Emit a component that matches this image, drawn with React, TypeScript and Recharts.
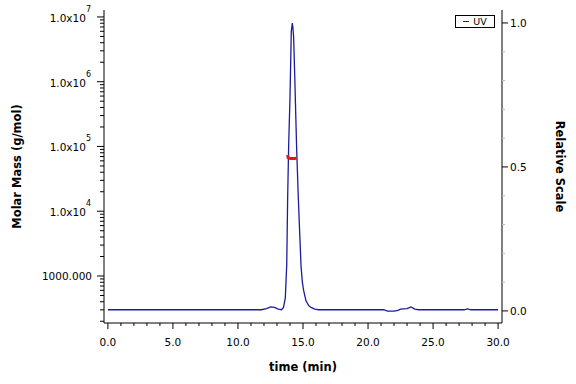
import { ComposedChart, Line, XAxis, YAxis } from 'recharts'

// UV trace (relative scale)
const uvTime = [
  0, 11.8, 12.2, 12.5, 12.8, 13.1, 13.35, 13.5, 13.64, 13.75, 13.82, 13.9, 14.0, 14.1, 14.18,
  14.22, 14.28, 14.35, 14.42, 14.51, 14.64, 14.74, 14.85, 14.95, 15.05, 15.23, 15.45, 15.62,
  15.9, 16.2, 21.2, 21.5, 22.0, 22.3, 22.5, 23.0, 23.3, 23.6, 23.9, 27.4, 27.65, 27.9, 30.0,
]
const uvRel = [
  0.004, 0.004, 0.008, 0.014, 0.012, 0.006, 0.004, 0.012, 0.045, 0.161, 0.392, 0.58, 0.74, 0.971,
  1.0, 0.985, 0.95, 0.84, 0.72, 0.566, 0.392, 0.277, 0.155, 0.1, 0.07, 0.035, 0.018, 0.012, 0.006,
  0.004, 0.004, -0.001, -0.001, 0.002, 0.006, 0.008, 0.014, 0.006, 0.004, 0.004, 0.007, 0.004, 0.004,
]

// molar mass across the peak (g/mol)
const massTime = [13.82, 13.86, 13.95, 14.1, 14.3, 14.51]
const massValue = [74000, 67000, 65500, 65000, 65000, 65500]

const xTicks = [
  0, 1, 2, 3, 4, 5, 6, 7, 8, 9, 10, 11, 12, 13, 14, 15, 16, 17, 18, 19, 20, 21, 22, 23, 24, 25,
  26, 27, 28, 29, 30,
]
const xMajor = [0, 5, 10, 15, 20, 25, 30]

const massTicks = [
  200, 300, 400, 500, 600, 700, 800, 900,
  1e3, 2e3, 3e3, 4e3, 5e3, 6e3, 7e3, 8e3, 9e3,
  1e4, 2e4, 3e4, 4e4, 5e4, 6e4, 7e4, 8e4, 9e4,
  1e5, 2e5, 3e5, 4e5, 5e5, 6e5, 7e5, 8e5, 9e5,
  1e6, 2e6, 3e6, 4e6, 5e6, 6e6, 7e6, 8e6, 9e6,
  1e7,
]
const massMajor = [1e3, 1e4, 1e5, 1e6, 1e7]

const relTicks = [0, 0.1, 0.2, 0.3, 0.4, 0.5, 0.6, 0.7, 0.8, 0.9, 1.0]
const relMajor = [0, 0.5, 1.0]

const uvData = uvTime.map((t, i) => ({ t, rel: uvRel[i] }))
const massData = massTime.map((t, i) => ({ t, mass: massValue[i] }))

const FONT = '"DejaVu Sans", Verdana, sans-serif'
const LINE = '#1c1c9c'

function XTick({ x, y, payload }: any) {
  const v = payload.value
  const major = xMajor.includes(v)
  return (
    <g>
      <line x1={x} y1={y} x2={x} y2={y + (major ? 6 : 3)} stroke="#000" />
      {major && (
        <text x={x} y={y + 23} textAnchor="middle" fontSize={10.5} fontFamily={FONT} fill="#000">
          {v.toFixed(1)}
        </text>
      )}
    </g>
  )
}

function MassTick({ x, y, payload }: any) {
  const v = payload.value
  const major = massMajor.includes(v)
  const exp = Math.round(Math.log10(v))
  return (
    <g>
      <line x1={x} y1={y} x2={x - (major ? 7 : 4)} y2={y} stroke="#000" />
      {major && v === 1e3 && (
        <text x={x - 12} y={y + 4} textAnchor="end" fontSize={10.5} fontFamily={FONT} fill="#000">
          1000.000
        </text>
      )}
      {major && v !== 1e3 && (
        <text x={x - 13} y={y + 5} textAnchor="end" fontSize={10.5} fontFamily={FONT} fill="#000">
          <tspan>1.0x10</tspan>
          <tspan dy={-10} fontSize={8}>{exp}</tspan>
        </text>
      )}
    </g>
  )
}

function RelTick({ x, y, payload }: any) {
  const v = payload.value
  const major = relMajor.includes(v)
  return (
    <g>
      <line x1={x} y1={y} x2={x + (major ? 6 : 3)} y2={y} stroke={major ? '#000' : '#bbb'} />
      {major && (
        <text x={x + 8} y={y + 4} textAnchor="start" fontSize={10.5} fontFamily={FONT} fill="#000">
          {v.toFixed(1)}
        </text>
      )}
    </g>
  )
}

export default function App() {
  return (
    <div style={{ position: 'absolute', left: 0, top: 0, width: 576, height: 384, background: '#fff' }}>
      <ComposedChart width={576} height={384} margin={{ top: 10, right: 0, bottom: 0, left: 0 }}>
        <XAxis
          dataKey="t"
          type="number"
          domain={[-0.3, 30.3]}
          ticks={xTicks}
          interval={0}
          allowDataOverflow
          height={61}
          tickSize={0}
          tickMargin={0}
          tickLine={false}
          axisLine={{ stroke: '#000' }}
          tick={<XTick />}
          label={{
            content: ({ viewBox }: any) => (
              <text
                x={viewBox.x + viewBox.width / 2}
                y={viewBox.y + 48}
                textAnchor="middle"
                fontSize={11.5}
                fontWeight="bold"
                fontFamily={FONT}
                fill="#000"
              >
                time (min)
              </text>
            ),
          }}
        />
        <XAxis
          xAxisId="top"
          orientation="top"
          dataKey="t"
          type="number"
          domain={[-0.3, 30.3]}
          height={0}
          tick={false}
          tickLine={false}
          axisLine={{ stroke: '#000' }}
        />
        <YAxis
          yAxisId="mass"
          orientation="left"
          scale="log"
          type="number"
          domain={[188, 1.28e7]}
          allowDataOverflow
          ticks={massTicks}
          interval={0}
          width={104}
          tickSize={0}
          tickMargin={0}
          tickLine={false}
          axisLine={{ stroke: '#000' }}
          tick={<MassTick />}
          label={{
            content: ({ viewBox }: any) => {
              const cx = viewBox.x + 17
              const cy = viewBox.y + viewBox.height / 2
              return (
                <text
                  x={cx}
                  y={cy}
                  transform={`rotate(-90 ${cx} ${cy})`}
                  textAnchor="middle"
                  dominantBaseline="central"
                  fontSize={11.5}
                  fontWeight="bold"
                  fontFamily={FONT}
                  fill="#000"
                >
                  Molar Mass (g/mol)
                </text>
              )
            },
          }}
        />
        <YAxis
          yAxisId="rel"
          orientation="right"
          type="number"
          domain={[-0.042, 1.045]}
          allowDataOverflow
          ticks={relTicks}
          interval={0}
          width={74}
          tickSize={0}
          tickMargin={0}
          tickLine={false}
          axisLine={{ stroke: '#000' }}
          tick={<RelTick />}
          label={{
            content: ({ viewBox }: any) => {
              const cx = viewBox.x + 58
              const cy = viewBox.y + viewBox.height / 2
              return (
                <text
                  x={cx}
                  y={cy}
                  transform={`rotate(90 ${cx} ${cy})`}
                  textAnchor="middle"
                  dominantBaseline="central"
                  fontSize={11.5}
                  fontWeight="bold"
                  fontFamily={FONT}
                  fill="#000"
                >
                  Relative Scale
                </text>
              )
            },
          }}
        />
        <Line
          yAxisId="rel"
          data={uvData}
          dataKey="rel"
          type="linear"
          stroke={LINE}
          strokeWidth={1.3}
          dot={false}
          activeDot={false}
          isAnimationActive={false}
        />
        <Line
          yAxisId="mass"
          data={massData}
          dataKey="mass"
          type="linear"
          stroke="#e01818"
          strokeWidth={3}
          dot={false}
          activeDot={false}
          isAnimationActive={false}
        />
      </ComposedChart>
      <div
        style={{
          position: 'absolute',
          left: 455,
          top: 15,
          width: 40,
          height: 13,
          border: '1px solid #000',
          boxSizing: 'border-box',
          fontFamily: FONT,
          fontSize: 9.5,
          lineHeight: '11px',
          display: 'flex',
          alignItems: 'center',
          justifyContent: 'center',
          gap: 4,
          background: '#fff',
        }}
      >
        <span style={{ display: 'inline-block', width: 6, height: 1.3, background: LINE }} />
        <span>UV</span>
      </div>
    </div>
  )
}
